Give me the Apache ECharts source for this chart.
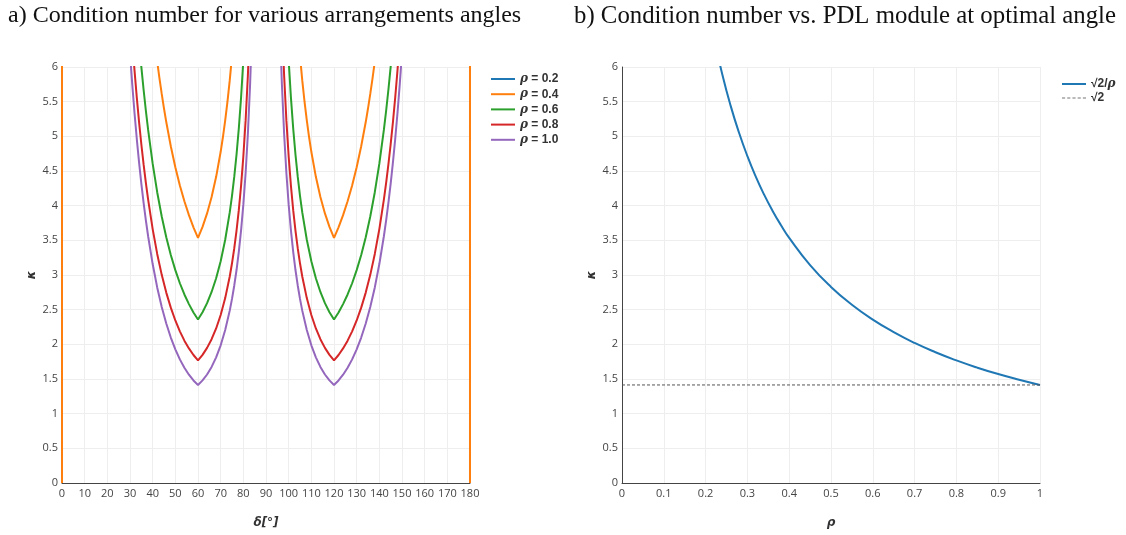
<!DOCTYPE html>
<html>
<head>
<meta charset="utf-8">
<script src="https://cdn.jsdelivr.net/npm/echarts@6/dist/echarts.min.js"></script>
<style>
  html, body { margin: 0; padding: 0; background: #fff; }
  #chart { width: 1126px; height: 535px; }
</style>
</head>
<body>
<div id="chart"></div>
<script>
// Panel a) condition number kappa versus arrangement angle delta (degrees), one curve per PDL module rho
const DELTA_R02 = [0, 1, 60, 120, 179, 180];
const KAPPA_R02 = [0, 18110, 7.071, 7.071, 18110, 0];

const DELTA_R04 = [0, 1, 38, 39, 40, 41, 42, 43, 44, 45, 46, 48, 50, 52, 54, 56, 58, 60, 62, 64, 66, 68, 70, 71, 72, 73, 74, 75, 76, 77,
  103, 104, 105, 106, 107, 108, 109, 110, 112, 114, 116, 118, 120, 122, 124, 126, 128, 130, 132, 134, 135, 136, 137, 138, 139, 140, 141, 142, 179, 180];
const KAPPA_R04 = [0, 10100, 7.275, 6.939, 6.630, 6.344, 6.081, 5.837, 5.611, 5.401, 5.206, 4.857, 4.555, 4.292, 4.063, 3.863, 3.688, 3.536, 3.694, 3.888, 4.125, 4.416, 4.777, 4.990, 5.229, 5.499, 5.806, 6.157, 6.561, 7.029,
  7.029, 6.561, 6.157, 5.806, 5.499, 5.229, 4.990, 4.777, 4.416, 4.125, 3.888, 3.694, 3.536, 3.688, 3.863, 4.063, 4.292, 4.555, 4.857, 5.206, 5.401, 5.611, 5.837, 6.081, 6.344, 6.630, 6.939, 7.275, 10100, 0];

const DELTA_R06 = [32, 33, 34, 35, 36, 37, 38, 40, 42, 44, 46, 48, 50, 52, 54, 56, 58, 60, 62, 64, 66, 68, 70, 72, 74, 75, 76, 77, 78, 79, 80, 81, 82,
  98, 99, 100, 101, 102, 103, 104, 105, 106, 108, 110, 112, 114, 116, 118, 120, 122, 124, 126, 128, 130, 132, 134, 136, 138, 140, 142, 143, 144, 145, 146, 147, 148];
const KAPPA_R06 = [7.202, 6.763, 6.365, 6.002, 5.672, 5.369, 5.093, 4.606, 4.194, 3.844, 3.545, 3.289, 3.070, 2.881, 2.719, 2.580, 2.460, 2.357, 2.463, 2.594, 2.755, 2.953, 3.199, 3.508, 3.903, 4.142, 4.418, 4.738, 5.113, 5.559, 6.096, 6.756, 7.581,
  7.581, 6.756, 6.096, 5.559, 5.113, 4.738, 4.418, 4.142, 3.903, 3.508, 3.199, 2.953, 2.755, 2.594, 2.463, 2.357, 2.460, 2.580, 2.719, 2.881, 3.070, 3.289, 3.545, 3.844, 4.194, 4.606, 5.093, 5.369, 5.672, 6.002, 6.365, 6.763, 7.202];

const DELTA_R08 = [29, 30, 31, 32, 33, 34, 35, 36, 37, 38, 40, 42, 44, 46, 48, 50, 52, 54, 56, 58, 60, 62, 64, 66, 68, 70, 72, 74, 75, 76, 77, 78, 79, 80, 81, 82, 83, 84,
  96, 97, 98, 99, 100, 101, 102, 103, 104, 105, 106, 108, 110, 112, 114, 116, 118, 120, 122, 124, 126, 128, 130, 132, 134, 136, 138, 140, 142, 143, 144, 145, 146, 147, 148, 149, 150, 151];
const KAPPA_R08 = [7.385, 6.854, 6.378, 5.948, 5.559, 5.206, 4.886, 4.595, 4.329, 4.087, 3.662, 3.304, 3.002, 2.746, 2.529, 2.344, 2.187, 2.053, 1.941, 1.846, 1.768, 1.848, 1.949, 2.074, 2.229, 2.423, 2.667, 2.979, 3.169, 3.386, 3.639, 3.935, 4.286, 4.709, 5.226, 5.874, 6.708, 7.822,
  7.822, 6.708, 5.874, 5.226, 4.709, 4.286, 3.935, 3.639, 3.386, 3.169, 2.979, 2.667, 2.423, 2.229, 2.074, 1.949, 1.848, 1.768, 1.846, 1.941, 2.053, 2.187, 2.344, 2.529, 2.746, 3.002, 3.304, 3.662, 4.087, 4.329, 4.595, 4.886, 5.206, 5.559, 5.948, 6.378, 6.854, 7.385];

const DELTA_R10 = [28, 29, 30, 31, 32, 33, 34, 35, 36, 37, 38, 40, 42, 44, 46, 48, 50, 52, 54, 56, 58, 60, 62, 64, 66, 68, 70, 72, 74, 75, 76, 77, 78, 79, 80, 81, 82, 83, 84, 85,
  95, 96, 97, 98, 99, 100, 101, 102, 103, 104, 105, 106, 108, 110, 112, 114, 116, 118, 120, 122, 124, 126, 128, 130, 132, 134, 136, 138, 140, 142, 143, 144, 145, 146, 147, 148, 149, 150, 151, 152];
const KAPPA_R10 = [7.282, 6.713, 6.203, 5.745, 5.333, 4.961, 4.624, 4.319, 4.041, 3.789, 3.559, 3.158, 2.821, 2.539, 2.300, 2.098, 1.928, 1.783, 1.662, 1.562, 1.479, 1.414, 1.480, 1.565, 1.674, 1.812, 1.986, 2.206, 2.486, 2.655, 2.849, 3.072, 3.334, 3.643, 4.014, 4.468, 5.033, 5.761, 6.729, 8.083,
  8.083, 6.729, 5.761, 5.033, 4.468, 4.014, 3.643, 3.334, 3.072, 2.849, 2.655, 2.486, 2.206, 1.986, 1.812, 1.674, 1.565, 1.480, 1.414, 1.479, 1.562, 1.662, 1.783, 1.928, 2.098, 2.300, 2.539, 2.821, 3.158, 3.559, 3.789, 4.041, 4.319, 4.624, 4.961, 5.333, 5.745, 6.203, 6.713, 7.282];

// Panel b) kappa at the optimal angle versus rho, with the sqrt(2) floor
const RHO = [0.20, 0.22, 0.24, 0.26, 0.28, 0.30, 0.32, 0.34, 0.36, 0.38, 0.40, 0.45, 0.50, 0.55, 0.60, 0.65, 0.70, 0.75, 0.80, 0.85, 0.90, 0.95, 1.00];
const KAPPA_OPT = [7.071, 6.428, 5.893, 5.439, 5.051, 4.714, 4.419, 4.159, 3.928, 3.722, 3.536, 3.143, 2.828, 2.571, 2.357, 2.176, 2.020, 1.886, 1.768, 1.664, 1.571, 1.489, 1.414];
const RHO_FLOOR = [0, 1];
const KAPPA_FLOOR = [1.414, 1.414];

const X_TICKS_A = [0, 180, 10];
const X_TICKS_B = [0, 1, 0.1];
const Y_TICKS = [0, 6, 0.5];

const NAMES_A = ['ρ = 0.2', 'ρ = 0.4', 'ρ = 0.6', 'ρ = 0.8', 'ρ = 1.0'];
const NAMES_B = ['√2/ρ', '√2'];
const COLORS = ['#1f77b4', '#ff7f0e', '#2ca02c', '#d62728', '#9467bd'];

const zip = (xs, ys) => xs.map((x, i) => [x, ys[i]]);

const chart = echarts.init(document.getElementById('chart'), null, { renderer: 'canvas' });

const tickFont = { color: '#444', fontSize: 11, fontFamily: '"Open Sans", "DejaVu Sans", sans-serif' };
const mathName = { fontSize: 12, fontWeight: 'bold', color: '#333', fontFamily: '"DejaVu Sans", sans-serif', fontStyle: 'italic' };

// legend glyphs: a solid stroke and a dashed stroke
const SOLID_ICON = 'path://M0,0h24v2h-24z';
const DASH_ICON = 'path://M0,0h3v1h-3zM5,0h3v1h-3zM10,0h3v1h-3zM15,0h3v1h-3zM20,0h3v1h-3z';

function xAxis(grid, t, name) {
  return {
    type: 'value', gridIndex: grid, min: t[0], max: t[1], interval: t[2],
    name: name, nameLocation: 'middle', nameGap: 34, nameTextStyle: mathName,
    axisLine: { show: true, onZero: false, lineStyle: { color: '#444', width: 1 } },
    axisTick: { show: false },
    axisLabel: Object.assign({ margin: 5, showMinLabel: true, showMaxLabel: true }, tickFont),
    splitLine: { show: true, lineStyle: { color: '#eee', width: 1 } }
  };
}
function yAxis(grid, t) {
  return {
    type: 'value', gridIndex: grid, min: t[0], max: t[1], interval: t[2],
    name: 'κ', nameLocation: 'middle', nameGap: 24, nameRotate: 90, nameTextStyle: mathName,
    axisLine: { show: true, onZero: false, lineStyle: { color: '#444', width: 1 } },
    axisTick: { show: false },
    axisLabel: Object.assign({ margin: 4 }, tickFont),
    splitLine: { show: true, lineStyle: { color: '#eee', width: 1 } }
  };
}

const curveA = [
  [DELTA_R02, KAPPA_R02], [DELTA_R04, KAPPA_R04], [DELTA_R06, KAPPA_R06],
  [DELTA_R08, KAPPA_R08], [DELTA_R10, KAPPA_R10]
];

const seriesA = curveA.map((c, i) => ({
  name: NAMES_A[i], type: 'line', xAxisIndex: 0, yAxisIndex: 0,
  data: zip(c[0], c[1]), symbol: 'none', clip: true, smooth: false,
  lineStyle: { color: COLORS[i], width: 2 }, itemStyle: { color: COLORS[i] }
}));

const seriesB = [
  {
    name: NAMES_B[0], type: 'line', xAxisIndex: 1, yAxisIndex: 1,
    data: zip(RHO, KAPPA_OPT), symbol: 'none', clip: true, smooth: true,
    lineStyle: { color: COLORS[0], width: 2 }, itemStyle: { color: COLORS[0] }
  },
  {
    name: NAMES_B[1], type: 'line', xAxisIndex: 1, yAxisIndex: 1,
    data: zip(RHO_FLOOR, KAPPA_FLOOR), symbol: 'none', clip: true,
    lineStyle: { color: '#555', width: 1, type: [3, 2] }, itemStyle: { color: '#777' }
  }
];

const legendText = {
  color: '#333', fontSize: 12, fontWeight: 'bold', fontFamily: '"Liberation Sans", sans-serif',
  rich: {
    i: { fontStyle: 'italic', fontWeight: 'bold', fontSize: 12, color: '#333', fontFamily: '"DejaVu Serif", serif' },
    n: { fontWeight: 'bold', fontSize: 12, color: '#333', fontFamily: '"Liberation Sans", sans-serif' }
  }
};

const titleStyle = { fontFamily: '"Liberation Serif", serif', fontSize: 24, fontWeight: 'normal', color: '#111' };

chart.setOption({
  animation: false,
  backgroundColor: '#fff',
  title: [
    { text: 'a) Condition number for various arrangements angles', left: 8, top: 4, padding: 0, textStyle: titleStyle },
    { text: 'b) Condition number vs. PDL module at optimal angle', left: 574, top: 4, padding: 0,
      textStyle: Object.assign({}, titleStyle, { fontSize: 24.8 }) }
  ],
  grid: [
    { left: 62, top: 67, width: 408, height: 416, containLabel: false },
    { left: 622, top: 67, width: 418, height: 416, containLabel: false }
  ],
  xAxis: [xAxis(0, X_TICKS_A, 'δ[°]'), xAxis(1, X_TICKS_B, 'ρ')],
  yAxis: [yAxis(0, Y_TICKS), yAxis(1, Y_TICKS)],
  legend: [
    {
      data: NAMES_A.map(n => ({ name: n, icon: SOLID_ICON })),
      left: 486, top: 68, orient: 'vertical', itemWidth: 24, itemHeight: 14, itemGap: 3.2,
      symbolKeepAspect: true, textStyle: legendText,
      formatter: n => '{i|ρ}{n| = ' + n.split('= ')[1] + '}'
    },
    {
      data: [{ name: NAMES_B[0], icon: SOLID_ICON }, { name: NAMES_B[1], icon: DASH_ICON }],
      left: 1057, top: 73, orient: 'vertical', itemWidth: 24, itemHeight: 14, itemGap: 2,
      symbolKeepAspect: true, textStyle: legendText,
      formatter: n => n === NAMES_B[0] ? '{n|√2/}{i|ρ}' : '{n|√2}'
    }
  ],
  series: seriesA.concat(seriesB)
});
</script>
</body>
</html>
